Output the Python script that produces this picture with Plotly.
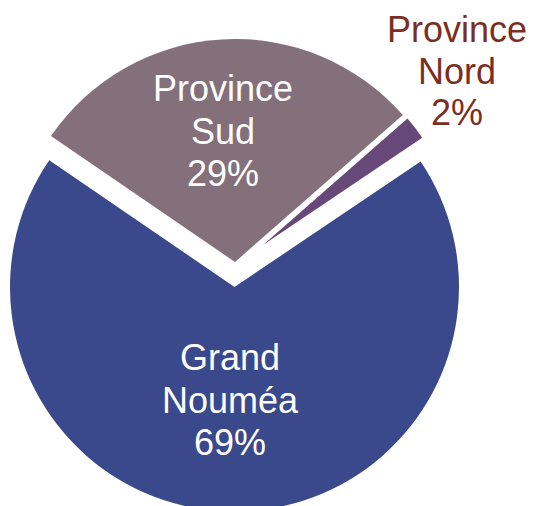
import plotly.graph_objects as go

# ---- data ----
labels = ["Grand Nouméa", "Province Sud", "Province Nord"]
values = [69, 29, 2]
label_lines = [["Grand", "Nouméa"], ["Province", "Sud"], ["Province", "Nord"]]

# ---- styles ----
colors = ["#39498B", "#84707B", "#674878"]
W, H = 533, 512   # the window shows the top 506 px; the big slice runs off the bottom
# exploded-slice geometry in pixels: centre x, centre y, radius
geo = [(234.5, 287, 224.5), (235, 262, 223), (263, 245, 192)]

total = sum(values)
pcts = [f"{round(v / total * 100)}%" for v in values]

fig = go.Figure()
for i, (cx, cy, r) in enumerate(geo):
    cols = ["rgba(0,0,0,0)"] * len(values)
    cols[i] = colors[i]
    fig.add_trace(go.Pie(
        labels=labels, values=values, sort=False, direction="clockwise",
        rotation=56,
        marker=dict(colors=cols, line=dict(width=0)),
        textinfo="none", hoverinfo="label+percent", showlegend=False,
        domain=dict(x=[(cx - r) / W, (cx + r) / W],
                    y=[1 - (cy + r) / H, 1 - (cy - r) / H]),
    ))

# labels
label_pos = [(230, [357, 400, 442], "white"),
             (223, [88, 131, 173], "white"),
             (457, [29, 71, 112], "#7B2E22")]
for i, (cx, ys, col) in enumerate(label_pos):
    lines = label_lines[i] + [pcts[i]]
    for line, y in zip(lines, ys):
        fig.add_annotation(
            x=cx / W, y=1 - y / H, xref="paper", yref="paper",
            text=line, showarrow=False, xanchor="center", yanchor="middle",
            font=dict(family="Liberation Sans, Arial", size=36, color=col),
        )

fig.update_layout(
    width=W, height=H, margin=dict(l=0, r=0, t=0, b=0),
    paper_bgcolor="white", plot_bgcolor="white",
)
fig.write_html("out.html", config={"displayModeBar": False},
               post_script="document.body.style.margin='0';document.body.style.overflow='hidden';")
